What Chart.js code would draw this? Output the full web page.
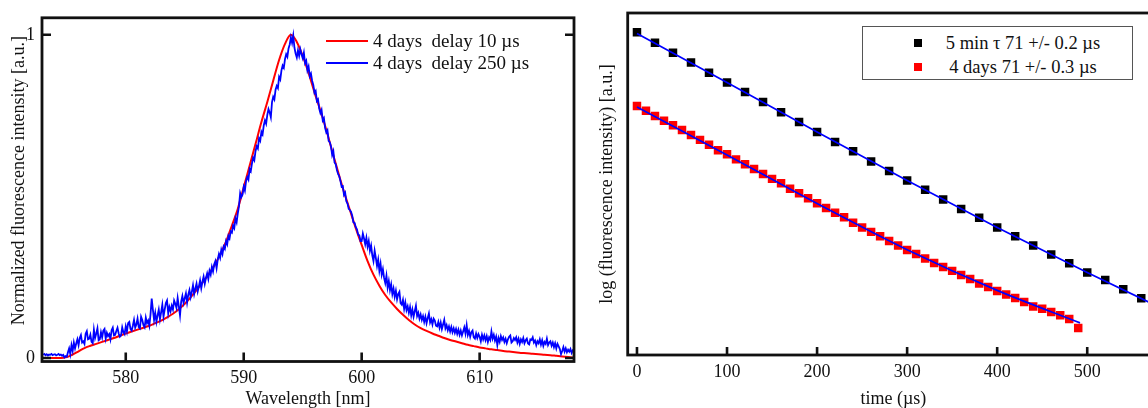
<!DOCTYPE html>
<html>
<head>
<meta charset="utf-8">
<title>Fluorescence spectra and decay</title>
<script src="https://cdn.jsdelivr.net/npm/chart.js@4.4.1/dist/chart.umd.min.js"></script>
<style>
  html, body { margin: 0; padding: 0; background: #fff; }
  #wrap {
    position: relative; width: 1148px; height: 408px; overflow: hidden;
    font-family: "Liberation Serif", "Times New Roman", serif; color: #111;
  }
  #specCanvas { position: absolute; left: 0; top: 0; }
  #decayCanvas { position: absolute; left: 590px; top: 0; }
  .row {
    position: absolute; height: 22px; line-height: 22px;
    white-space: pre; display: flex; align-items: center;
  }
  .swatch { display: inline-block; width: 42px; height: 2px; margin-right: 5px; }
  #decayLegend {
    position: absolute; left: 862px; top: 26px; width: 269px; height: 52px;
    border: 1px solid #555; background: #fff;
  }
  .sq { position: absolute; width: 8px; height: 8px; left: 51px; }
  .txt { position: absolute; left: 70px; width: 180px; text-align: center; font-size: 18.5px; line-height: 22px; white-space: pre; }
</style>
</head>
<body>
<div id="wrap">
  <canvas id="specCanvas" width="590" height="408"></canvas>
  <canvas id="decayCanvas" width="600" height="408"></canvas>

  <div class="row" style="left:326px; top:30px; font-size:19px;"><span class="swatch" style="background:#ff0000"></span>4 days  delay 10 µs</div>
  <div class="row" style="left:326px; top:52px; font-size:19px;"><span class="swatch" style="background:#0000ff"></span>4 days  delay 250 µs</div>

  <div id="decayLegend">
    <span class="sq" style="top:12px; background:#000"></span>
    <span class="txt" style="top:5px;">5 min τ 71 +/- 0.2 µs</span>
    <span class="sq" style="top:36px; background:#ff0000"></span>
    <span class="txt" style="top:29px;">4 days 71 +/- 0.3 µs</span>
  </div>
</div>

<script>
// ---- spectra (normalized), 4 days old sample ----
const wlTicks = [580, 590, 600, 610];

// delay 10 µs, sampled every 0.5 nm from 573 nm
const wl10Start = 573.0, wl10Step = 0.5;
const specDelay10 = [
  0.000, 0.000, 0.000, 0.000, 0.003, 0.011, 0.021, 0.031, 0.038, 0.044,
  0.050, 0.056, 0.062, 0.069, 0.076, 0.082, 0.088, 0.094, 0.100, 0.108,
  0.116, 0.126, 0.137, 0.151, 0.168, 0.188, 0.210, 0.233, 0.258, 0.286,
  0.320, 0.360, 0.410, 0.462, 0.528, 0.595, 0.662, 0.730, 0.792, 0.858,
  0.922, 0.972, 1.000, 0.978, 0.935, 0.882, 0.822, 0.766, 0.706, 0.640,
  0.576, 0.514, 0.458, 0.402, 0.350, 0.300, 0.258, 0.224, 0.195, 0.172,
  0.152, 0.134, 0.118, 0.104, 0.093, 0.084, 0.076, 0.069, 0.062, 0.056,
  0.051, 0.046, 0.041, 0.037, 0.033, 0.030, 0.027, 0.025, 0.022, 0.020,
  0.018, 0.016, 0.015, 0.013, 0.012, 0.010, 0.009, 0.007, 0.005, 0.003,
  0.001
];

// delay 250 µs, sampled every 0.1 nm from 573 nm (one row per nm)
const wl250Start = 573.0, wl250Step = 0.1;
const specDelay250 = [
  0.010, 0.013, 0.009, 0.012, 0.008, 0.011, 0.010, 0.013, 0.009, 0.011, // 573
  0.012, 0.008, 0.010, 0.013, 0.009, 0.011, 0.007, 0.010, 0.002, 0.006,
  0.004, 0.018, 0.030, 0.012, 0.040, 0.022, 0.048, 0.030, 0.045, 0.058, // 575
  0.040, 0.062, 0.071, 0.048, 0.052, 0.044, 0.075, 0.083, 0.058, 0.060,
  0.072, 0.050, 0.046, 0.088, 0.062, 0.076, 0.092, 0.055, 0.058, 0.080,
  0.064, 0.085, 0.090, 0.060, 0.078, 0.068, 0.074, 0.058, 0.086, 0.094,
  0.070, 0.072, 0.084, 0.094, 0.076, 0.066, 0.070, 0.095, 0.080, 0.074,
  0.098, 0.082, 0.108, 0.112, 0.090, 0.085, 0.100, 0.118, 0.094, 0.104, // 580
  0.122, 0.096, 0.092, 0.128, 0.118, 0.102, 0.095, 0.125, 0.108, 0.116,
  0.100, 0.135, 0.184, 0.150, 0.118, 0.140, 0.112, 0.132, 0.150, 0.120,
  0.142, 0.165, 0.128, 0.150, 0.170, 0.178, 0.138, 0.158, 0.145, 0.162,
  0.150, 0.178, 0.168, 0.155, 0.186, 0.160, 0.132, 0.175, 0.192, 0.170,
  0.185, 0.200, 0.172, 0.196, 0.210, 0.188, 0.205, 0.225, 0.198, 0.215, // 585
  0.230, 0.206, 0.222, 0.240, 0.216, 0.236, 0.252, 0.230, 0.248, 0.262,
  0.245, 0.270, 0.258, 0.282, 0.268, 0.290, 0.300, 0.278, 0.305, 0.322,
  0.310, 0.335, 0.322, 0.345, 0.338, 0.362, 0.352, 0.378, 0.370, 0.392,
  0.388, 0.410, 0.402, 0.432, 0.420, 0.448, 0.470, 0.510, 0.498, 0.505,
  0.530, 0.518, 0.548, 0.560, 0.552, 0.585, 0.578, 0.602, 0.620, 0.612, // 590
  0.640, 0.655, 0.648, 0.680, 0.672, 0.700, 0.692, 0.720, 0.735, 0.725,
  0.752, 0.770, 0.760, 0.745, 0.792, 0.808, 0.800, 0.830, 0.842, 0.835,
  0.870, 0.862, 0.890, 0.905, 0.898, 0.925, 0.940, 0.932, 0.958, 0.970,
  0.992, 0.975, 0.998, 0.960, 0.942, 0.930, 0.952, 0.935, 0.955, 0.940,
  0.928, 0.945, 0.912, 0.920, 0.890, 0.902, 0.872, 0.880, 0.858, 0.845, // 595
  0.820, 0.826, 0.795, 0.800, 0.772, 0.758, 0.768, 0.735, 0.742, 0.712,
  0.698, 0.705, 0.672, 0.668, 0.655, 0.628, 0.640, 0.605, 0.600, 0.582,
  0.570, 0.562, 0.548, 0.530, 0.532, 0.505, 0.512, 0.485, 0.478, 0.462,
  0.458, 0.452, 0.440, 0.420, 0.418, 0.405, 0.398, 0.382, 0.380, 0.362,
  0.362, 0.385, 0.370, 0.352, 0.372, 0.345, 0.362, 0.332, 0.348, 0.318, // 600
  0.300, 0.332, 0.310, 0.285, 0.305, 0.270, 0.292, 0.258, 0.275, 0.248,
  0.232, 0.255, 0.218, 0.238, 0.210, 0.228, 0.198, 0.215, 0.190, 0.208,
  0.182, 0.198, 0.205, 0.170, 0.165, 0.180, 0.152, 0.172, 0.148, 0.160,
  0.140, 0.158, 0.132, 0.150, 0.128, 0.145, 0.162, 0.130, 0.140, 0.122,
  0.135, 0.118, 0.130, 0.112, 0.128, 0.108, 0.124, 0.138, 0.110, 0.120, // 605
  0.104, 0.122, 0.116, 0.100, 0.098, 0.112, 0.094, 0.110, 0.090, 0.104,
  0.118, 0.092, 0.102, 0.086, 0.098, 0.082, 0.096, 0.080, 0.092, 0.078,
  0.090, 0.075, 0.088, 0.072, 0.085, 0.070, 0.082, 0.095, 0.076, 0.102,
  0.072, 0.084, 0.066, 0.080, 0.085, 0.064, 0.060, 0.076, 0.062, 0.074,
  0.066, 0.052, 0.072, 0.058, 0.070, 0.055, 0.068, 0.050, 0.064, 0.056, // 610
  0.082, 0.060, 0.072, 0.054, 0.066, 0.040, 0.062, 0.050, 0.068, 0.056,
  0.064, 0.050, 0.060, 0.046, 0.058, 0.066, 0.070, 0.048, 0.052, 0.062,
  0.056, 0.064, 0.048, 0.060, 0.044, 0.058, 0.050, 0.062, 0.046, 0.055,
  0.060, 0.045, 0.042, 0.058, 0.056, 0.064, 0.048, 0.054, 0.040, 0.052,
  0.046, 0.058, 0.042, 0.055, 0.038, 0.050, 0.044, 0.060, 0.040, 0.048, // 615
  0.052, 0.038, 0.048, 0.034, 0.046, 0.030, 0.044, 0.036, 0.028, 0.012,
  0.022, 0.034, 0.020, 0.030, 0.018, 0.026, 0.020, 0.028, 0.016, 0.024,
  0.020
];

// ---- decay curves, log intensity (a.u.) ----
const timeTicks = [0, 100, 200, 300, 400, 500];

const time5min = [0, 20, 40, 60, 80, 100, 120, 140, 160, 180, 200, 220, 240, 260,
  280, 300, 320, 340, 360, 380, 400, 420, 440, 460, 480, 500, 520, 540, 560];
const decay5min = [9.44, 9.13, 8.84, 8.55, 8.25, 7.97, 7.69, 7.40, 7.10, 6.81, 6.52, 6.23, 5.96, 5.66,
  5.38, 5.10, 4.83, 4.55, 4.27, 4.01, 3.73, 3.47, 3.20, 2.94, 2.68, 2.41, 2.19, 1.92, 1.66];

const time4days = [0, 10, 20, 30, 40, 50, 60, 70, 80, 90, 100, 110, 120, 130, 140, 150, 160, 170, 180, 190,
  200, 210, 220, 230, 240, 250, 260, 270, 280, 290, 300, 310, 320, 330, 340, 350, 360, 370, 380, 390,
  400, 410, 420, 430, 440, 450, 460, 470, 480, 490];
const decay4days = [
  7.28, 7.14, 6.99, 6.85, 6.72, 6.58, 6.43, 6.29, 6.15, 5.99,
  5.87, 5.72, 5.58, 5.44, 5.29, 5.15, 5.02, 4.86, 4.73, 4.58,
  4.44, 4.30, 4.16, 4.03, 3.87, 3.73, 3.60, 3.47, 3.33, 3.20,
  3.07, 2.95, 2.82, 2.69, 2.57, 2.46, 2.34, 2.22, 2.09, 1.99,
  1.87, 1.77, 1.67, 1.55, 1.42, 1.35, 1.26, 1.16, 1.05, 0.79
];

// fitted exponentials
const fitTime5min = [0, 100, 200, 300, 400, 500, 580];
const fit5min = [9.40, 7.97, 6.52, 5.10, 3.73, 2.41, 1.40];
const fitTime4days = [0, 100, 200, 300, 400, 492];
const fit4days = [7.25, 5.85, 4.43, 3.08, 1.89, 0.94];

const serif = "'Liberation Serif', 'Times New Roman', serif";
const ink = '#111';

function pairs(xs, ys) {
  return ys.map((y, i) => ({ x: xs[i], y: y }));
}
function sampled(start, step, ys) {
  return ys.map((y, i) => ({ x: +(start + i * step).toFixed(2), y: y }));
}

// box around the plot + inward tick marks
const frameTicks = {
  id: 'frameTicks',
  afterDraw(chart, args, opts) {
    const { ctx, chartArea: a, scales } = chart;
    ctx.save();
    ctx.strokeStyle = ink;
    ctx.lineWidth = 2.6;
    ctx.beginPath();
    scales.x.ticks.forEach(t => {
      const px = scales.x.getPixelForValue(t.value);
      ctx.moveTo(px, a.bottom);
      ctx.lineTo(px, a.bottom - opts.len);
    });
    if (opts.yTicks) {
      scales.y.ticks.forEach(t => {
        const py = scales.y.getPixelForValue(t.value);
        ctx.moveTo(a.left, py);
        ctx.lineTo(a.left + opts.len, py);
        ctx.moveTo(a.right, py);
        ctx.lineTo(a.right - opts.len, py);
      });
    }
    ctx.stroke();
    ctx.lineWidth = 2.8;
    ctx.strokeRect(a.left, a.top, a.right - a.left, a.bottom - a.top);
    ctx.restore();
  }
};

const tickFont = { family: serif, size: 18 };
const titleFont = { family: serif, size: 18, lineHeight: 1 };

// left: emission spectra
new Chart(document.getElementById('specCanvas'), {
  type: 'scatter',
  data: {
    datasets: [
      {
        label: '4 days  delay 250 µs',
        data: sampled(wl250Start, wl250Step, specDelay250),
        showLine: true,
        borderColor: '#0000ff',
        borderWidth: 1.8,
        pointRadius: 0,
        order: 0
      },
      {
        label: '4 days  delay 10 µs',
        data: sampled(wl10Start, wl10Step, specDelay10),
        showLine: true,
        borderColor: '#ff0000',
        borderWidth: 2,
        pointRadius: 0,
        cubicInterpolationMode: 'monotone',
        order: 1
      }
    ]
  },
  options: {
    responsive: false,
    animation: false,
    devicePixelRatio: 1,
    layout: { padding: { top: 12, right: 16, left: 0, bottom: 0 } },
    plugins: {
      legend: { display: false },
      tooltip: { enabled: false },
      frameTicks: { len: 9, yTicks: true }
    },
    scales: {
      x: {
        type: 'linear',
        min: 572.9,
        max: 618.0,
        grid: { display: false, drawTicks: false },
        border: { display: false },
        afterBuildTicks: s => { s.ticks = wlTicks.map(v => ({ value: v })); },
        afterFit: s => { s.height = 46.5; },
        ticks: { color: ink, font: tickFont, padding: 6, maxRotation: 0 },
        title: { display: true, text: 'Wavelength [nm]', color: ink, font: titleFont, padding: { top: 0, bottom: 0 } }
      },
      y: {
        type: 'linear',
        min: -0.0106,
        max: 1.0526,
        grid: { display: false, drawTicks: false },
        border: { display: false },
        afterBuildTicks: s => { s.ticks = [0, 1].map(v => ({ value: v })); },
        afterFit: s => { s.width = 42; },
        ticks: { color: ink, font: tickFont, padding: 7 },
        // leading em space lifts the centred title a little
        title: { display: true, text: '\u2003Normalized fluorescence intensity [a.u.]', color: ink, font: titleFont, padding: { top: 10, bottom: 0 } }
      }
    }
  },
  plugins: [frameTicks]
});

// right: decay on a log scale with fits
new Chart(document.getElementById('decayCanvas'), {
  type: 'scatter',
  data: {
    datasets: [
      {
        label: 'fit 5 min',
        data: pairs(fitTime5min, fit5min),
        showLine: true,
        borderColor: '#0000ff',
        borderWidth: 1.7,
        pointRadius: 0,
        order: 0
      },
      {
        label: 'fit 4 days',
        data: pairs(fitTime4days, fit4days),
        showLine: true,
        borderColor: '#0000ff',
        borderWidth: 1.7,
        pointRadius: 0,
        cubicInterpolationMode: 'monotone',
        order: 0
      },
      {
        label: '5 min τ 71 +/- 0.2 µs',
        data: pairs(time5min, decay5min),
        pointStyle: 'rect',
        pointRadius: 6,
        pointBorderWidth: 0,
        backgroundColor: '#000000',
        borderColor: '#000000',
        order: 1
      },
      {
        label: '4 days 71 +/- 0.3 µs',
        data: pairs(time4days, decay4days),
        pointStyle: 'rect',
        pointRadius: 6,
        pointBorderWidth: 0,
        backgroundColor: '#ff0000',
        borderColor: '#ff0000',
        order: 1
      }
    ]
  },
  options: {
    responsive: false,
    animation: false,
    devicePixelRatio: 1,
    layout: { padding: { top: 13, right: 31, left: 0, bottom: 0 } },
    plugins: {
      legend: { display: false },
      tooltip: { enabled: false },
      frameTicks: { len: 8, yTicks: false }
    },
    scales: {
      x: {
        type: 'linear',
        min: -10.3,
        max: 579.7,
        grid: { display: false, drawTicks: false },
        border: { display: false },
        afterBuildTicks: s => { s.ticks = timeTicks.map(v => ({ value: v })); },
        afterFit: s => { s.height = 53; },
        ticks: { color: ink, font: tickFont, padding: 6, maxRotation: 0 },
        title: { display: true, text: 'time (µs)', color: ink, font: titleFont, padding: { top: 0, bottom: 0 } }
      },
      y: {
        type: 'linear',
        min: 0,
        max: 10,
        grid: { display: false, drawTicks: false },
        border: { display: false },
        ticks: { display: false },
        afterFit: s => { s.width = 37.7; },
        title: { display: true, text: 'log (fluorescence intensity) [a.u.]', color: ink, font: titleFont, padding: { top: 8, bottom: 0 } }
      }
    }
  },
  plugins: [frameTicks]
});
</script>
</body>
</html>
